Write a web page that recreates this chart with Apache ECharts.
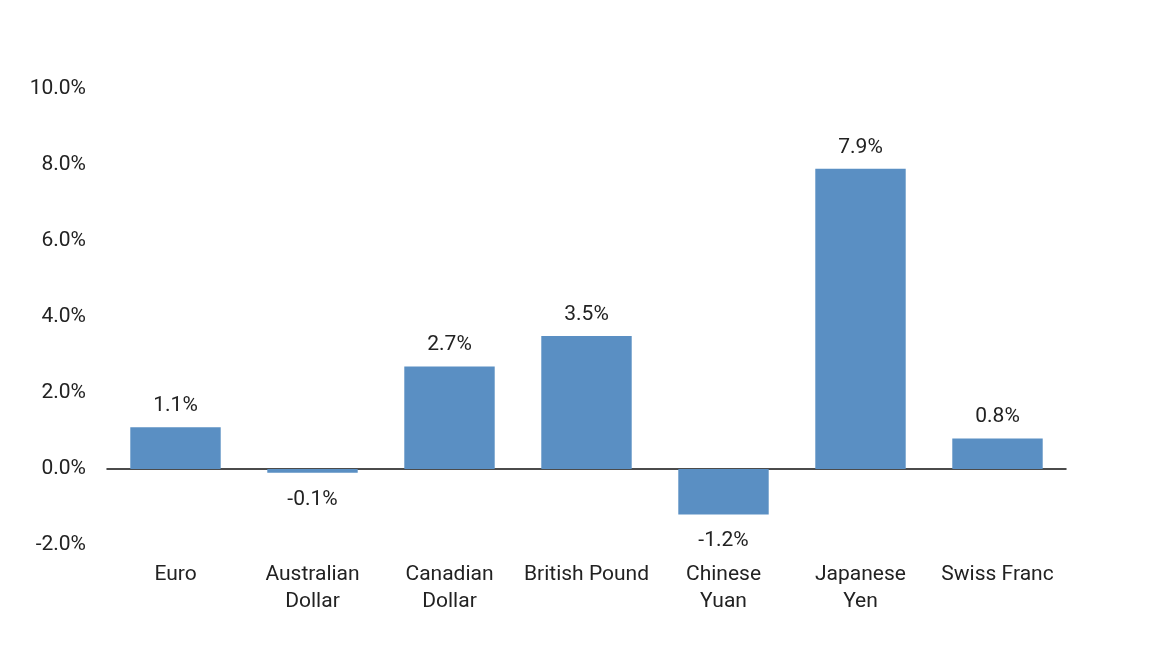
<!DOCTYPE html>
<html>
<head>
<meta charset="utf-8">
<script src="https://cdn.jsdelivr.net/npm/echarts@6/dist/echarts.min.js"></script>
<style>
  html, body { margin: 0; padding: 0; background: #fff; }
  #chart { width: 1154px; height: 650px; }
</style>
</head>
<body>
<div id="chart"></div>
<script>
// currency returns vs USD (%)
var categories = ["Euro", "Australian\nDollar", "Canadian\nDollar", "British Pound", "Chinese\nYuan", "Japanese\nYen", "Swiss Franc"];
var values = [1.1, -0.1, 2.7, 3.5, -1.2, 7.9, 0.8];

var myChart = echarts.init(document.getElementById("chart"));

var barData = values.map(function (v) {
  return {
    value: v,
    label: v < 0 ? { position: "bottom", distance: 16 } : { position: "top", distance: 11 }
  };
});

var option = {
  backgroundColor: "#ffffff",
  textStyle: { fontFamily: "Roboto, sans-serif" },
  grid: { left: 107, right: 88, top: 89, bottom: 105 },
  xAxis: [
    {
      type: "category",
      data: categories,
      axisLine: { show: false, onZero: false },
      axisTick: { show: false },
      axisLabel: {
        interval: 0,
        color: "#222",
        fontSize: 21,
        lineHeight: 27,
        margin: 16
      }
    },
    {
      // zero line
      type: "category",
      data: categories,
      position: "bottom",
      axisLine: { show: true, onZero: true, lineStyle: { color: "#111", width: 1.5 } },
      axisTick: { show: false },
      axisLabel: { show: false }
    }
  ],
  yAxis: {
    type: "value",
    min: -2,
    max: 10,
    interval: 2,
    axisLine: { show: false },
    axisTick: { show: false },
    splitLine: { show: false },
    axisLabel: {
      color: "#222",
      fontSize: 21,
      margin: 21,
      formatter: function (v) { return v.toFixed(1) + "%"; }
    }
  },
  series: [
    {
      type: "bar",
      xAxisIndex: 0,
      data: barData,
      barWidth: "66%",
      itemStyle: { color: "#5a8fc3" },
      label: {
        show: true,
        color: "#222",
        fontSize: 21,
        formatter: function (p) { return p.value.toFixed(1) + "%"; }
      }
    }
  ]
};

myChart.setOption(option);
window.addEventListener("resize", function () { myChart.resize(); });
</script>
</body>
</html>
